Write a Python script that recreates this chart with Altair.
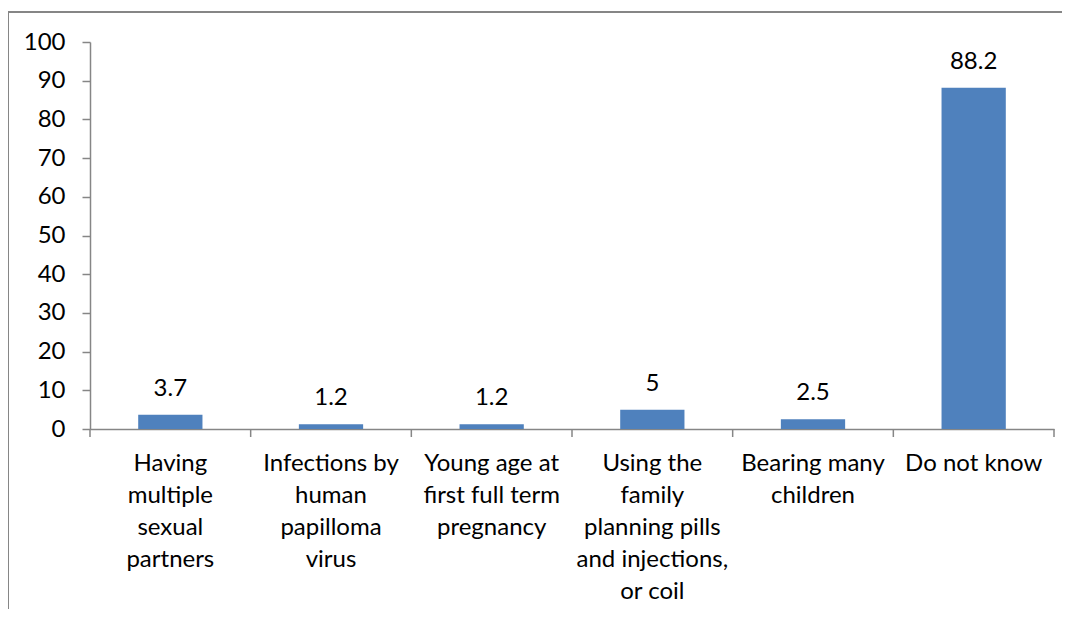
import altair as alt
import pandas as pd

categories = [
    "Having\nmultiple\nsexual\npartners",
    "Infections by\nhuman\npapilloma\nvirus",
    "Young age at\nfirst full term\npregnancy",
    "Using the\nfamily\nplanning pills\nand injections,\nor coil",
    "Bearing many\nchildren",
    "Do not know",
]
values = [3.7, 1.2, 1.2, 5, 2.5, 88.2]
value_labels = ["3.7", "1.2", "1.2", "5", "2.5", "88.2"]
y_ticks = [0, 10, 20, 30, 40, 50, 60, 70, 80, 90, 100]

df = pd.DataFrame({"cat": categories, "val": values, "lab": value_labels})
df_last = df.tail(1)

FONT = "Lato"
GRAY = "#868686"
W = 964
HALF_GAP = W / len(categories) * 0.3

x_enc = alt.X(
    "cat:N",
    sort=categories,
    title=None,
    scale=alt.Scale(paddingInner=0.6, paddingOuter=0.3),
    axis=alt.Axis(
        labelExpr="split(datum.label, '\\n')",
        labelAngle=0,
        labelFont=FONT,
        labelFontSize=24,
        labelLineHeight=32,
        labelColor="black",
        labelPadding=22,
        labelLimit=0,
        labelOverlap=False,
        labelBaseline="top",
        ticks=False,
        domainColor=GRAY,
        domainWidth=1.5,
    ),
)
y_enc = alt.Y(
    "val:Q",
    title=None,
    scale=alt.Scale(domain=[0, 100], nice=False),
    axis=alt.Axis(
        values=y_ticks,
        grid=False,
        labelFont=FONT,
        labelFontSize=24,
        labelColor="black",
        labelPadding=17,
        labelOverlap=False,
        labelFlush=False,
        tickSize=8,
        tickColor=GRAY,
        domainColor=GRAY,
        tickWidth=1.5,
        domainWidth=1.5,
    ),
)

base = alt.Chart(df).encode(x=x_enc, y=y_enc)
bars = base.mark_bar(color="#4F81BD")
texts = base.mark_text(
    font=FONT, fontSize=24, color="black", dy=-19, baseline="alphabetic"
).encode(text="lab:N")

# category-boundary ticks on the x axis
xticks_left = alt.Chart(df).mark_rule(
    color=GRAY, strokeWidth=1.5, xOffset=-HALF_GAP
).encode(
    x=alt.X("cat:N", sort=categories, bandPosition=0),
    y=alt.value(387),
    y2=alt.value(395),
)
xticks_right = alt.Chart(df_last).mark_rule(
    color=GRAY, strokeWidth=1.5, xOffset=HALF_GAP
).encode(
    x=alt.X("cat:N", sort=categories, bandPosition=1),
    y=alt.value(387),
    y2=alt.value(395),
)

border_top = alt.Chart(df).mark_rule(color=GRAY, strokeWidth=1.5).encode(
    x=alt.value(-82), x2=alt.value(1000), y=alt.value(-30)
)
border_left = alt.Chart(df).mark_rule(color=GRAY, strokeWidth=1.5).encode(
    x=alt.value(-82), y=alt.value(-30), y2=alt.value(600)
)

chart = (
    alt.layer(border_top, border_left, bars, texts, xticks_left, xticks_right)
    .properties(
        width=W,
        height=387,
        autosize=alt.AutoSizeParams(type="none"),
        padding={"left": 82, "top": 34, "right": 8, "bottom": 180},
    )
    .configure_view(stroke=None)
)

chart.save("out.html", embed_options={"renderer": "svg", "actions": False})
